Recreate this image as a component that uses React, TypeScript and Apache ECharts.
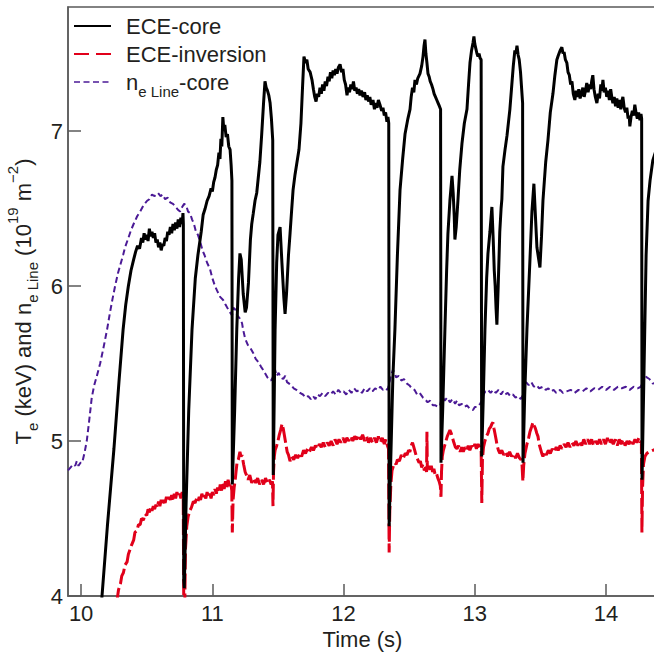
import React, { useEffect, useRef } from 'react';
import * as echarts from 'echarts';

const xTicks = [10, 11, 12, 13, 14];
const yTicks = [4, 5, 6, 7];
const seriesNames = ['ECE-core', 'ECE-inversion', 'ne Line-core'];

const eceCore: number[][] = [
  [10.15, 3.9], [10.2, 4.45], [10.25, 4.95], [10.29, 5.4], [10.32, 5.72], [10.34, 5.88], [10.36, 6.0], [10.38, 6.1],
  [10.4, 6.17], [10.415, 6.22], [10.43, 6.26], [10.445, 6.24], [10.46, 6.31], [10.47, 6.28], [10.48, 6.34], [10.49, 6.3],
  [10.5, 6.33], [10.51, 6.29], [10.52, 6.37], [10.53, 6.32], [10.54, 6.35], [10.55, 6.31], [10.56, 6.34], [10.57, 6.28],
  [10.58, 6.3], [10.59, 6.25], [10.6, 6.28], [10.61, 6.23], [10.62, 6.27], [10.63, 6.26], [10.64, 6.31], [10.65, 6.29],
  [10.66, 6.35], [10.67, 6.33], [10.68, 6.38], [10.69, 6.34], [10.7, 6.4], [10.71, 6.36], [10.72, 6.41], [10.73, 6.37],
  [10.74, 6.43], [10.75, 6.38], [10.76, 6.44], [10.77, 6.4], [10.776, 6.47], [10.779, 6.4], [10.782, 4.1], [10.786, 4.05],
  [10.8, 4.6], [10.82, 5.2], [10.845, 5.72], [10.87, 6.05], [10.89, 6.2], [10.9, 6.26], [10.915, 6.35], [10.93, 6.46],
  [10.945, 6.5], [10.96, 6.55], [10.975, 6.58], [10.99, 6.63], [11.0, 6.61], [11.01, 6.67], [11.02, 6.7], [11.03, 6.75],
  [11.04, 6.78], [11.05, 6.86], [11.058, 6.82], [11.065, 6.95], [11.072, 6.9], [11.08, 7.09], [11.088, 7.0], [11.095, 7.04],
  [11.105, 6.96], [11.115, 6.98], [11.125, 6.9], [11.135, 6.88], [11.143, 6.78], [11.149, 6.68], [11.152, 4.72], [11.17, 5.2],
  [11.186, 5.72], [11.2, 6.05], [11.21, 6.21], [11.22, 6.17], [11.235, 5.95], [11.25, 5.83], [11.26, 5.86], [11.275, 6.02],
  [11.29, 6.3], [11.3, 6.4], [11.312, 6.47], [11.325, 6.55], [11.338, 6.6], [11.35, 6.7], [11.362, 6.8], [11.376, 6.98],
  [11.39, 7.18], [11.401, 7.32], [11.41, 7.28], [11.42, 7.26], [11.43, 7.23], [11.44, 7.18], [11.45, 7.08], [11.46, 6.94],
  [11.464, 4.78], [11.478, 5.72], [11.49, 6.15], [11.5, 6.33], [11.516, 6.38], [11.53, 6.15], [11.545, 5.92], [11.554, 5.82],
  [11.565, 5.95], [11.58, 6.2], [11.592, 6.34], [11.605, 6.5], [11.615, 6.62], [11.63, 6.72], [11.645, 6.8], [11.66, 6.88],
  [11.675, 7.05], [11.688, 7.3], [11.698, 7.48], [11.71, 7.44], [11.72, 7.46], [11.73, 7.4], [11.745, 7.38], [11.759, 7.33],
  [11.77, 7.27], [11.78, 7.22], [11.79, 7.19], [11.8, 7.24], [11.81, 7.22], [11.82, 7.28], [11.83, 7.24], [11.84, 7.3],
  [11.85, 7.26], [11.86, 7.32], [11.87, 7.29], [11.881, 7.35], [11.89, 7.32], [11.9, 7.38], [11.91, 7.34], [11.92, 7.39],
  [11.93, 7.36], [11.94, 7.4], [11.95, 7.37], [11.96, 7.41], [11.973, 7.43], [11.985, 7.38], [11.995, 7.4], [12.005, 7.33],
  [12.015, 7.3], [12.026, 7.23], [12.035, 7.28], [12.045, 7.25], [12.055, 7.3], [12.065, 7.27], [12.075, 7.32], [12.085, 7.26],
  [12.095, 7.28], [12.105, 7.24], [12.115, 7.27], [12.125, 7.23], [12.135, 7.26], [12.148, 7.22], [12.16, 7.25], [12.17, 7.2],
  [12.18, 7.23], [12.19, 7.19], [12.2, 7.22], [12.21, 7.17], [12.224, 7.2], [12.235, 7.14], [12.245, 7.18], [12.255, 7.15],
  [12.265, 7.2], [12.277, 7.17], [12.29, 7.13], [12.3, 7.15], [12.31, 7.1], [12.32, 7.12], [12.33, 7.06], [12.338, 7.09],
  [12.344, 7.05], [12.347, 4.45], [12.36, 4.9], [12.375, 5.4], [12.391, 5.72], [12.41, 6.2], [12.43, 6.62], [12.45, 6.82],
  [12.468, 6.98], [12.49, 7.08], [12.506, 7.14], [12.515, 7.22], [12.525, 7.28], [12.535, 7.25], [12.544, 7.33], [12.555, 7.3],
  [12.565, 7.34], [12.582, 7.37], [12.595, 7.42], [12.605, 7.48], [12.613, 7.55], [12.62, 7.59], [12.627, 7.5], [12.635, 7.44],
  [12.643, 7.37], [12.652, 7.35], [12.66, 7.32], [12.67, 7.3], [12.681, 7.27], [12.69, 7.24], [12.7, 7.22], [12.71, 7.2],
  [12.72, 7.18], [12.73, 7.16], [12.739, 7.14], [12.742, 4.86], [12.755, 5.2], [12.772, 5.72], [12.785, 6.1], [12.795, 6.34],
  [12.81, 6.55], [12.826, 6.71], [12.835, 6.6], [12.843, 6.45], [12.848, 6.3], [12.858, 6.38], [12.871, 6.55], [12.885, 6.75],
  [12.902, 6.92], [12.92, 7.05], [12.94, 7.14], [12.952, 7.3], [12.963, 7.44], [12.975, 7.52], [12.986, 7.57], [12.993, 7.61],
  [13.0, 7.56], [13.008, 7.53], [13.016, 7.5], [13.024, 7.48], [13.032, 7.5], [13.04, 7.47], [13.048, 7.46], [13.052, 4.9],
  [13.065, 5.3], [13.077, 5.72], [13.09, 6.05], [13.1, 6.21], [13.115, 6.35], [13.13, 6.51], [13.14, 6.3], [13.148, 6.1],
  [13.155, 6.0], [13.162, 5.85], [13.168, 5.75], [13.178, 6.0], [13.19, 6.35], [13.2, 6.5], [13.206, 6.56], [13.214, 6.77],
  [13.23, 6.88], [13.245, 6.97], [13.267, 7.14], [13.28, 7.28], [13.293, 7.42], [13.305, 7.52], [13.313, 7.5], [13.321, 7.55],
  [13.33, 7.49], [13.338, 7.46], [13.348, 7.38], [13.356, 7.28], [13.364, 7.18], [13.367, 4.86], [13.38, 5.3], [13.397, 5.72],
  [13.42, 6.17], [13.435, 6.48], [13.45, 6.66], [13.46, 6.48], [13.473, 6.25], [13.485, 6.18], [13.496, 6.12], [13.508, 6.32],
  [13.519, 6.55], [13.54, 6.8], [13.557, 6.94], [13.575, 7.12], [13.595, 7.24], [13.61, 7.36], [13.625, 7.46], [13.637, 7.49],
  [13.65, 7.52], [13.663, 7.54], [13.672, 7.5], [13.68, 7.51], [13.69, 7.46], [13.701, 7.44], [13.71, 7.38], [13.72, 7.36],
  [13.73, 7.3], [13.74, 7.32], [13.75, 7.24], [13.762, 7.2], [13.772, 7.26], [13.782, 7.22], [13.792, 7.27], [13.802, 7.21],
  [13.812, 7.24], [13.823, 7.28], [13.833, 7.22], [13.843, 7.26], [13.853, 7.31], [13.863, 7.25], [13.873, 7.3], [13.883, 7.27],
  [13.89, 7.32], [13.899, 7.36], [13.908, 7.27], [13.918, 7.22], [13.93, 7.18], [13.94, 7.24], [13.95, 7.21], [13.96, 7.3],
  [13.968, 7.26], [13.976, 7.33], [13.985, 7.25], [13.995, 7.28], [14.005, 7.22], [14.015, 7.26], [14.025, 7.2], [14.035, 7.27],
  [14.045, 7.21], [14.052, 7.18], [14.062, 7.22], [14.072, 7.16], [14.082, 7.21], [14.092, 7.15], [14.102, 7.2], [14.112, 7.14],
  [14.12, 7.19], [14.128, 7.22], [14.138, 7.15], [14.148, 7.12], [14.158, 7.15], [14.168, 7.08], [14.176, 7.1], [14.181, 7.03],
  [14.19, 7.09], [14.2, 7.13], [14.21, 7.1], [14.219, 7.17], [14.228, 7.12], [14.238, 7.08], [14.248, 7.12], [14.258, 7.07],
  [14.266, 7.11], [14.271, 7.08], [14.274, 4.75], [14.29, 5.5], [14.305, 6.2], [14.32, 6.55], [14.335, 6.68], [14.356, 6.81],
  [14.39, 6.9],
];

const eceInversion: number[][] = [
  [10.27, 3.95], [10.285, 4.04], [10.3, 4.08], [10.31, 4.13], [10.322, 4.15], [10.335, 4.2], [10.35, 4.22], [10.36, 4.27],
  [10.373, 4.3], [10.385, 4.33], [10.4, 4.36], [10.41, 4.41], [10.424, 4.42], [10.437, 4.46], [10.45, 4.46], [10.46, 4.5],
  [10.475, 4.49], [10.487, 4.53], [10.5, 4.52], [10.51, 4.56], [10.52, 4.54], [10.53, 4.57], [10.54, 4.55], [10.55, 4.58],
  [10.56, 4.56], [10.57, 4.59], [10.58, 4.57], [10.59, 4.61], [10.6, 4.58], [10.61, 4.62], [10.62, 4.59], [10.63, 4.62],
  [10.64, 4.6], [10.65, 4.64], [10.66, 4.61], [10.67, 4.64], [10.68, 4.62], [10.69, 4.65], [10.7, 4.62], [10.71, 4.66],
  [10.72, 4.63], [10.73, 4.67], [10.74, 4.64], [10.75, 4.66], [10.76, 4.63], [10.77, 4.67], [10.778, 4.64], [10.782, 3.95],
  [10.79, 3.95], [10.795, 4.3], [10.805, 4.45], [10.815, 4.51], [10.828, 4.55], [10.84, 4.57], [10.855, 4.61], [10.868, 4.6],
  [10.88, 4.63], [10.89, 4.61], [10.9, 4.64], [10.91, 4.62], [10.92, 4.66], [10.93, 4.63], [10.94, 4.65], [10.95, 4.63],
  [10.96, 4.67], [10.97, 4.64], [10.98, 4.66], [10.99, 4.63], [11.0, 4.67], [11.01, 4.65], [11.02, 4.69], [11.03, 4.66],
  [11.04, 4.7], [11.05, 4.67], [11.06, 4.72], [11.07, 4.68], [11.08, 4.73], [11.09, 4.69], [11.1, 4.74], [11.11, 4.7],
  [11.12, 4.75], [11.13, 4.71], [11.14, 4.73], [11.148, 4.68], [11.152, 4.41], [11.158, 4.62], [11.166, 4.7], [11.173, 4.74],
  [11.18, 4.8], [11.188, 4.86], [11.198, 4.88], [11.21, 4.93], [11.218, 4.9], [11.226, 4.91], [11.238, 4.85], [11.25, 4.8],
  [11.26, 4.78], [11.272, 4.75], [11.285, 4.78], [11.3, 4.73], [11.315, 4.76], [11.33, 4.73], [11.345, 4.76], [11.36, 4.72],
  [11.375, 4.75], [11.39, 4.72], [11.405, 4.76], [11.42, 4.73], [11.435, 4.75], [11.448, 4.72], [11.458, 4.74], [11.462, 4.58],
  [11.466, 4.8], [11.472, 4.9], [11.478, 4.94], [11.49, 4.97], [11.5, 5.0], [11.51, 5.04], [11.52, 5.07], [11.531, 5.11],
  [11.54, 5.08], [11.55, 5.03], [11.56, 4.98], [11.57, 4.93], [11.58, 4.91], [11.592, 4.87], [11.605, 4.9], [11.62, 4.88],
  [11.635, 4.91], [11.65, 4.89], [11.668, 4.92], [11.68, 4.9], [11.695, 4.94], [11.71, 4.92], [11.725, 4.95], [11.74, 4.93],
  [11.755, 4.96], [11.77, 4.94], [11.785, 4.97], [11.8, 4.95], [11.815, 4.98], [11.83, 4.96], [11.845, 4.99], [11.86, 4.96],
  [11.875, 4.99], [11.89, 4.97], [11.905, 5.0], [11.92, 4.97], [11.935, 5.01], [11.95, 4.98], [11.965, 5.01], [11.98, 4.99],
  [11.995, 5.02], [12.01, 4.99], [12.025, 5.02], [12.04, 5.0], [12.055, 5.03], [12.07, 5.0], [12.085, 5.03], [12.1, 5.01],
  [12.115, 5.04], [12.13, 5.01], [12.145, 5.04], [12.16, 5.0], [12.175, 5.03], [12.19, 4.99], [12.205, 5.02], [12.22, 4.99],
  [12.235, 5.02], [12.25, 4.99], [12.265, 5.03], [12.28, 4.99], [12.295, 5.02], [12.31, 4.98], [12.322, 5.01], [12.334, 4.97],
  [12.342, 4.95], [12.347, 4.28], [12.352, 4.55], [12.36, 4.72], [12.369, 4.81], [12.38, 4.84], [12.39, 4.86], [12.4, 4.85],
  [12.41, 4.88], [12.425, 4.87], [12.44, 4.91], [12.455, 4.89], [12.47, 4.92], [12.483, 4.91], [12.495, 4.94], [12.505, 4.93],
  [12.515, 4.97], [12.525, 4.99], [12.535, 4.96], [12.545, 4.93], [12.555, 4.9], [12.565, 4.88], [12.575, 4.86], [12.585, 4.87],
  [12.595, 4.83], [12.605, 4.85], [12.615, 4.81], [12.625, 4.83], [12.632, 4.8], [12.635, 5.06], [12.638, 4.82], [12.648, 4.84],
  [12.658, 4.81], [12.668, 4.84], [12.678, 4.8], [12.688, 4.82], [12.698, 4.78], [12.708, 4.79], [12.718, 4.76], [12.728, 4.74],
  [12.737, 4.71], [12.742, 4.64], [12.746, 4.8], [12.752, 4.9], [12.76, 4.94], [12.77, 4.97], [12.78, 5.0], [12.79, 5.03],
  [12.8, 5.05], [12.81, 5.07], [12.82, 5.05], [12.83, 5.02], [12.84, 4.99], [12.852, 4.96], [12.864, 4.95], [12.876, 4.97],
  [12.888, 4.93], [12.9, 4.96], [12.912, 4.93], [12.925, 4.96], [12.938, 4.94], [12.95, 4.97], [12.962, 4.94], [12.975, 4.97],
  [12.988, 4.95], [13.0, 4.98], [13.012, 4.95], [13.025, 4.98], [13.038, 4.96], [13.048, 4.94], [13.053, 4.6], [13.058, 4.88],
  [13.066, 4.96], [13.077, 5.0], [13.088, 5.03], [13.1, 5.05], [13.11, 5.08], [13.12, 5.09], [13.13, 5.11], [13.138, 5.12],
  [13.146, 5.08], [13.153, 5.05], [13.162, 5.01], [13.17, 4.97], [13.18, 4.94], [13.191, 4.92], [13.205, 4.94], [13.22, 4.91],
  [13.235, 4.93], [13.25, 4.9], [13.265, 4.93], [13.28, 4.9], [13.295, 4.92], [13.31, 4.89], [13.325, 4.92], [13.34, 4.89],
  [13.352, 4.88], [13.36, 4.84], [13.366, 4.74], [13.372, 4.84], [13.382, 4.92], [13.397, 4.98], [13.41, 5.02], [13.42, 5.06],
  [13.432, 5.09], [13.443, 5.12], [13.452, 5.1], [13.462, 5.08], [13.472, 5.05], [13.481, 5.03], [13.49, 4.98], [13.5, 4.95],
  [13.51, 4.92], [13.519, 4.9], [13.53, 4.93], [13.545, 4.91], [13.56, 4.94], [13.575, 4.92], [13.59, 4.95], [13.605, 4.93],
  [13.62, 4.96], [13.635, 4.94], [13.65, 4.97], [13.665, 4.95], [13.68, 4.98], [13.695, 4.96], [13.71, 4.99], [13.725, 4.96],
  [13.74, 4.99], [13.755, 4.97], [13.77, 5.0], [13.785, 4.97], [13.8, 5.0], [13.815, 4.97], [13.83, 5.01], [13.845, 4.98],
  [13.86, 5.01], [13.875, 4.98], [13.89, 5.01], [13.905, 4.97], [13.92, 5.0], [13.935, 4.98], [13.95, 5.01], [13.965, 4.98],
  [13.98, 5.01], [13.995, 4.98], [14.01, 5.02], [14.025, 4.98], [14.04, 5.01], [14.055, 4.98], [14.07, 5.01], [14.085, 4.97],
  [14.1, 5.01], [14.115, 4.98], [14.13, 5.01], [14.145, 4.97], [14.16, 5.0], [14.175, 4.98], [14.19, 5.01], [14.205, 4.98],
  [14.22, 5.01], [14.235, 4.99], [14.25, 5.02], [14.262, 4.99], [14.269, 5.0], [14.273, 4.41], [14.278, 4.7], [14.285, 4.85],
  [14.296, 4.9], [14.31, 4.92], [14.33, 4.93], [14.356, 4.94], [14.39, 4.95],
];

const neLineCore: number[][] = [
  [9.9, 4.81], [9.92, 4.83], [9.94, 4.85], [9.955, 4.84], [9.967, 4.87], [9.98, 4.84], [9.995, 4.86], [10.008, 4.86],
  [10.025, 4.92], [10.043, 5.0], [10.06, 5.12], [10.081, 5.28], [10.1, 5.36], [10.12, 5.42], [10.145, 5.5], [10.17, 5.6],
  [10.198, 5.72], [10.22, 5.83], [10.24, 5.92], [10.259, 6.0], [10.28, 6.08], [10.3, 6.14], [10.32, 6.2], [10.335, 6.25],
  [10.36, 6.31], [10.38, 6.36], [10.4, 6.4], [10.427, 6.45], [10.45, 6.48], [10.475, 6.52], [10.503, 6.55], [10.52, 6.56],
  [10.54, 6.59], [10.56, 6.58], [10.586, 6.6], [10.605, 6.58], [10.62, 6.59], [10.64, 6.56], [10.66, 6.57], [10.678, 6.54],
  [10.7, 6.53], [10.72, 6.51], [10.74, 6.49], [10.754, 6.48], [10.77, 6.51], [10.785, 6.53], [10.8, 6.52], [10.815, 6.48],
  [10.83, 6.47], [10.845, 6.43], [10.86, 6.4], [10.875, 6.35], [10.89, 6.33], [10.906, 6.29], [10.925, 6.23], [10.94, 6.2],
  [10.96, 6.15], [10.982, 6.11], [11.0, 6.05], [11.02, 6.0], [11.036, 5.97], [11.059, 5.93], [11.082, 5.91], [11.1, 5.88],
  [11.12, 5.85], [11.135, 5.83], [11.15, 5.81], [11.16, 5.86], [11.173, 5.85], [11.19, 5.81], [11.21, 5.79], [11.226, 5.76],
  [11.234, 5.72], [11.25, 5.66], [11.27, 5.62], [11.29, 5.6], [11.31, 5.57], [11.33, 5.53], [11.35, 5.51], [11.37, 5.48],
  [11.386, 5.46], [11.4, 5.44], [11.42, 5.41], [11.447, 5.39], [11.46, 5.41], [11.47, 5.45], [11.478, 5.46], [11.49, 5.42],
  [11.505, 5.44], [11.52, 5.41], [11.54, 5.4], [11.555, 5.42], [11.569, 5.38], [11.585, 5.37], [11.6, 5.36], [11.62, 5.34],
  [11.64, 5.33], [11.668, 5.31], [11.69, 5.3], [11.71, 5.28], [11.73, 5.29], [11.75, 5.27], [11.767, 5.29], [11.785, 5.27],
  [11.8, 5.3], [11.82, 5.29], [11.84, 5.31], [11.86, 5.29], [11.881, 5.31], [11.9, 5.3], [11.92, 5.32], [11.94, 5.3],
  [11.96, 5.33], [11.98, 5.31], [12.0, 5.32], [12.02, 5.3], [12.04, 5.33], [12.06, 5.31], [12.08, 5.34], [12.1, 5.32],
  [12.12, 5.33], [12.14, 5.31], [12.16, 5.34], [12.18, 5.32], [12.2, 5.34], [12.22, 5.32], [12.24, 5.34], [12.26, 5.33],
  [12.28, 5.35], [12.3, 5.33], [12.32, 5.34], [12.335, 5.33], [12.345, 5.36], [12.36, 5.42], [12.376, 5.46], [12.39, 5.44],
  [12.4, 5.41], [12.42, 5.42], [12.44, 5.39], [12.46, 5.4], [12.483, 5.37], [12.5, 5.36], [12.52, 5.34], [12.54, 5.33],
  [12.56, 5.3], [12.58, 5.31], [12.605, 5.28], [12.62, 5.27], [12.64, 5.25], [12.66, 5.26], [12.68, 5.23], [12.7, 5.23],
  [12.72, 5.22], [12.735, 5.23], [12.745, 5.27], [12.757, 5.28], [12.77, 5.26], [12.79, 5.28], [12.81, 5.25], [12.83, 5.27],
  [12.85, 5.24], [12.864, 5.26], [12.88, 5.23], [12.9, 5.24], [12.92, 5.22], [12.94, 5.23], [12.96, 5.21], [12.986, 5.2],
  [13.0, 5.22], [13.02, 5.22], [13.04, 5.24], [13.054, 5.26], [13.066, 5.3], [13.08, 5.32], [13.1, 5.33], [13.12, 5.31],
  [13.14, 5.33], [13.16, 5.31], [13.18, 5.33], [13.2, 5.3], [13.214, 5.32], [13.23, 5.3], [13.25, 5.31], [13.27, 5.29],
  [13.29, 5.3], [13.31, 5.28], [13.33, 5.29], [13.35, 5.27], [13.362, 5.29], [13.375, 5.34], [13.39, 5.38], [13.41, 5.36],
  [13.43, 5.38], [13.45, 5.35], [13.47, 5.36], [13.49, 5.34], [13.519, 5.35], [13.54, 5.33], [13.56, 5.34], [13.58, 5.32],
  [13.6, 5.33], [13.62, 5.31], [13.65, 5.33], [13.671, 5.31], [13.7, 5.32], [13.73, 5.33], [13.76, 5.31], [13.79, 5.33],
  [13.82, 5.32], [13.85, 5.34], [13.88, 5.32], [13.91, 5.34], [13.94, 5.33], [13.97, 5.35], [14.0, 5.33], [14.03, 5.35],
  [14.06, 5.33], [14.09, 5.35], [14.12, 5.34], [14.15, 5.35], [14.18, 5.33], [14.21, 5.35], [14.24, 5.34], [14.265, 5.35],
  [14.28, 5.4], [14.296, 5.43], [14.31, 5.41], [14.33, 5.4], [14.356, 5.37], [14.39, 5.38],
];

const BLACK = '#000000';
const RED = '#e1001a';
const PURPLE = '#4b1a96';
const TEXT = '#231f20';
const AXIS = '#5a5a5a';
const FONT = '"Liberation Sans", Arial, Helvetica, sans-serif';

export default function App() {
  const ref = useRef<HTMLDivElement>(null);

  useEffect(() => {
    if (!ref.current) return;
    const chart = echarts.init(ref.current, null, { renderer: 'svg' });
    const main = { fontSize: 22, lineHeight: 24, fontFamily: FONT, color: TEXT };
    const sub = { fontSize: 15, height: 6, verticalAlign: 'bottom', fontFamily: FONT, color: TEXT };
    const sup = { fontSize: 15, height: 2, verticalAlign: 'top', fontFamily: FONT, color: TEXT };

    chart.setOption({
      animation: false,
      grid: {
        left: 68, top: 7, right: -3, bottom: 62,
        outerBoundsMode: 'none', containLabel: false,
        show: true, borderColor: AXIS, borderWidth: 1.5, backgroundColor: 'transparent',
      },
      legend: {
        orient: 'vertical', left: 73, top: 14, padding: 0,
        itemWidth: 37, itemHeight: 14, itemGap: 4,
        selectedMode: false,
        textStyle: { ...main, padding: [0, 0, 0, 10], rich: { a: main, sub } },
        formatter: (name: string) =>
          name === seriesNames[2] ? '{a|n}{sub|e Line}{a|-core}' : '{a|' + name + '}',
        data: [
          { name: seriesNames[0], itemStyle: { opacity: 0 }, lineStyle: { color: BLACK, width: 2, type: 'solid' } },
          { name: seriesNames[1], itemStyle: { opacity: 0 }, lineStyle: { color: RED, width: 2, type: [15, 7] } },
          { name: seriesNames[2], itemStyle: { opacity: 0 }, lineStyle: { color: PURPLE, width: 1.6, type: [6, 3.5] } },
        ],
      },
      xAxis: {
        type: 'value', min: 9.9, max: 14.388,
        name: 'Time (s)', nameLocation: 'middle', nameGap: 31,
        nameTextStyle: { fontSize: 22, fontFamily: FONT, color: TEXT },
        axisLine: { show: true, lineStyle: { color: AXIS, width: 1.5 } },
        axisTick: { show: true, inside: true, length: 12, customValues: xTicks, lineStyle: { color: AXIS, width: 1.5 } },
        axisLabel: { customValues: xTicks, margin: 6, fontSize: 22, fontFamily: FONT, color: TEXT },
        splitLine: { show: false },
      },
      yAxis: {
        type: 'value', min: 4, max: 7.8,
        name: '{a|T}{sub|e}{a| (keV) and n}{sub|e Line}{a| (10}{sup|19}{a| m}{sup|\u22122}{a|)}',
        nameLocation: 'middle', nameGap: 32, nameRotate: 90,
        nameTextStyle: { ...main, rich: { a: main, sub, sup } },
        axisLine: { show: true, lineStyle: { color: AXIS, width: 1.5 } },
        axisTick: { show: true, inside: true, length: 13, customValues: yTicks, lineStyle: { color: AXIS, width: 1.5 } },
        axisLabel: { customValues: yTicks, margin: 5, fontSize: 22, fontFamily: FONT, color: TEXT },
        splitLine: { show: false },
      },
      series: [
        {
          name: seriesNames[2], type: 'line', data: neLineCore, symbol: 'none', showSymbol: false, z: 1,
          lineStyle: { color: PURPLE, width: 2, type: [6, 3.5] }, itemStyle: { color: PURPLE },
        },
        {
          name: seriesNames[1], type: 'line', data: eceInversion, symbol: 'none', showSymbol: false, z: 2,
          lineStyle: { color: RED, width: 3, type: [16, 4] }, itemStyle: { color: RED },
        },
        {
          name: seriesNames[0], type: 'line', data: eceCore, symbol: 'none', showSymbol: false, z: 3,
          lineStyle: { color: BLACK, width: 3 }, itemStyle: { color: BLACK },
        },
      ],
    });

    return () => chart.dispose();
  }, []);

  return (
    <div
      ref={ref}
      style={{ position: 'fixed', left: 0, top: 0, width: 654, height: 658, background: '#ffffff' }}
    />
  );
}
